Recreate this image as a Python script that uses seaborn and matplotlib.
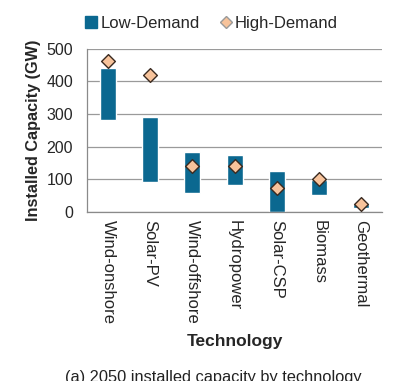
import matplotlib
matplotlib.use("Agg")
import matplotlib.pyplot as plt
from matplotlib.lines import Line2D
import numpy as np
import pandas as pd
import seaborn as sns

technologies = ["Wind-onshore", "Solar-PV", "Wind-offshore", "Hydropower",
                "Solar-CSP", "Biomass", "Geothermal"]
low_demand_min = [282, 92, 57, 81, 0, 52, 13]
low_demand_max = [440, 292, 184, 173, 124, 98, 25]
high_demand = [462, 421, 142, 142, 72, 101, 25]

BAR_COLOR = "#0b6890"
DIAMOND_COLOR = "#f7c39b"

sns.set_style("white")
plt.rcParams["font.family"] = ["Liberation Sans", "DejaVu Sans"]

df = pd.DataFrame({
    "tech": technologies,
    "low": low_demand_min,
    "span": np.array(low_demand_max) - np.array(low_demand_min),
    "high": high_demand,
})

fig = plt.figure(figsize=(4.10, 3.81), dpi=100)
ax = fig.add_axes([0.212, 0.444, 0.72, 0.428])

sns.barplot(data=df, x="tech", y="span", bottom=df["low"], color=BAR_COLOR,
            width=0.38, saturation=1, ax=ax, zorder=2)
sns.stripplot(data=df, x="tech", y="high", marker="D", jitter=False, size=7,
              color=DIAMOND_COLOR, edgecolor="#3a2a20", linewidth=1.0,
              ax=ax, zorder=3)

ax.set_ylim(0, 500)
ax.set_xlim(-0.5, len(technologies) - 0.5)
ax.set_yticks([0, 100, 200, 300, 400, 500])
ax.yaxis.grid(True, color="#9a9a9a", linewidth=0.9)
ax.set_axisbelow(True)
for side in ["top", "right"]:
    ax.spines[side].set_visible(False)
for side in ["left", "bottom"]:
    ax.spines[side].set_color("#8a8a8a")
    ax.spines[side].set_linewidth(0.9)

ax.set_xticks(np.arange(len(technologies)))
ax.set_xticklabels(technologies, rotation=270, va="top", ha="center")
ax.set_xticks(np.arange(len(technologies) + 1) - 0.5, minor=True)
ax.tick_params(axis="x", which="major", length=0, pad=6, labelsize=12)
ax.tick_params(axis="x", which="minor", length=5, color="#8a8a8a", direction="out")
ax.tick_params(axis="y", length=4, color="#8a8a8a", labelsize=11.5, pad=6)

ax.set_xlabel("Technology", fontsize=12.5, fontweight="bold", labelpad=7)
ax.set_ylabel("Installed Capacity (GW)", fontsize=11.7, fontweight="bold", labelpad=4)

handles = [
    Line2D([], [], marker="s", linestyle="none", markersize=9,
           markerfacecolor=BAR_COLOR, markeredgecolor=BAR_COLOR),
    Line2D([], [], marker="D", linestyle="none", markersize=6.5,
           markerfacecolor=DIAMOND_COLOR, markeredgecolor="#9a9a9a"),
]
fig.legend(handles, ["Low-Demand", "High-Demand"], loc="center left",
           bbox_to_anchor=(0.172, 0.938), ncol=2, frameon=False, fontsize=12,
           handlelength=0.7, handletextpad=0.2, columnspacing=1.2)

fig.text(0.52, 1 - 370 / 381, "(a) 2050 installed capacity by technology",
         ha="center", va="top", fontsize=11.8, color="#222222")

fig.savefig("out.png", dpi=100)
